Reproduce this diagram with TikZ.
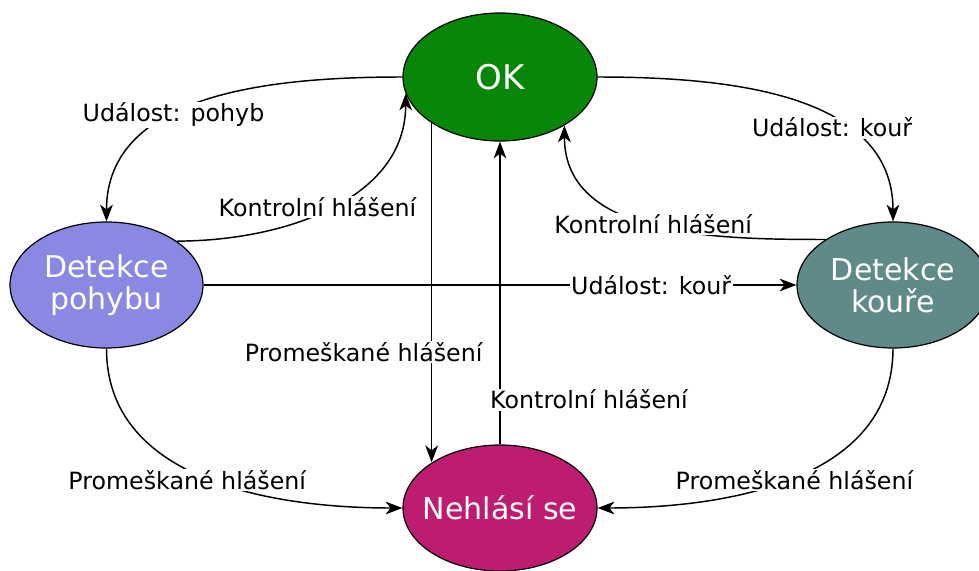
\documentclass[tikz,border=0pt]{standalone}
\usepackage{fontspec}
\setmainfont{DejaVu Sans}
\usetikzlibrary{shapes.geometric,arrows.meta,calc}
\definecolor{okgreen}{RGB}{8,134,8}
\definecolor{pohybcol}{RGB}{137,137,228}
\definecolor{kourcol}{RGB}{96,137,137}
\definecolor{nhcol}{RGB}{190,28,113}
\tikzset{
  state/.style={ellipse,draw=black,line width=0.9pt,text=white,inner sep=0pt,align=center,
    font=\fontsize{22.5}{24}\selectfont},
  lbl/.style={fill=white,inner sep=1pt,text=black,font=\fontsize{17.8}{20}\selectfont},
  arr/.style={line width=1.1pt,-{Stealth[length=12.5pt,width=9.5pt,inset=3.5pt]}}
}
\begin{document}
\begin{tikzpicture}[x=0.75pt,y=0.75pt]
\useasboundingbox (0,0) rectangle (979,-571);
\node[state,fill=okgreen,minimum width=145.5pt,minimum height=96pt,font=\fontsize{25.5}{27}\selectfont] (ok) at (500,-77) {OK};
\node[state,fill=pohybcol,minimum width=144.75pt,minimum height=94.5pt] (dp) at (106.5,-285) {Detekce\\pohybu};
\node[state,fill=kourcol,minimum width=144pt,minimum height=94.5pt] (dk) at (893,-285) {Detekce\\kouře};
\node[state,fill=nhcol,minimum width=145.5pt,minimum height=94.5pt,inner xsep=-7pt] (nh) at (500,-508) {Nehlásí se};

\draw[arr] (ok.west) to[out=180,in=90] node[lbl,pos=0.6]{Událost: pohyb} (dp.north);
\draw[arr] (dp.32) to[out=0,in=-90] node[lbl,pos=0.45,yshift=5pt]{Kontrolní hlášení} (ok.190);
\draw[arr] (ok.east) to[out=0,in=90] node[lbl,pos=0.62,yshift=-7pt]{Událost: kouř} (dk.north);
\draw[arr] (dk.146) to[out=180,in=-90] node[lbl,pos=0.5]{Kontrolní hlášení} (ok.323);
\draw[arr] (dp.east) -- node[lbl,pos=0.755]{Událost: kouř} (dk.west);
\draw[arr] (ok.214) -- node[lbl,pos=0.676,xshift=-51pt]{Promeškané hlášení} (ok.214 |- nh.146.5);
\draw[arr] (nh.north) -- node[lbl,pos=0.148,xshift=66.75pt]{Kontrolní hlášení} (ok.south);
\draw[arr] (dp.south) to[out=-90,in=180] node[lbl,pos=0.5,xshift=-13.5pt,yshift=-2pt]{Promeškané hlášení} (nh.west);
\draw[arr] (dk.south) to[out=-90,in=0] node[lbl,pos=0.5,yshift=-2pt]{Promeškané hlášení} (nh.east);
\end{tikzpicture}
\end{document}
